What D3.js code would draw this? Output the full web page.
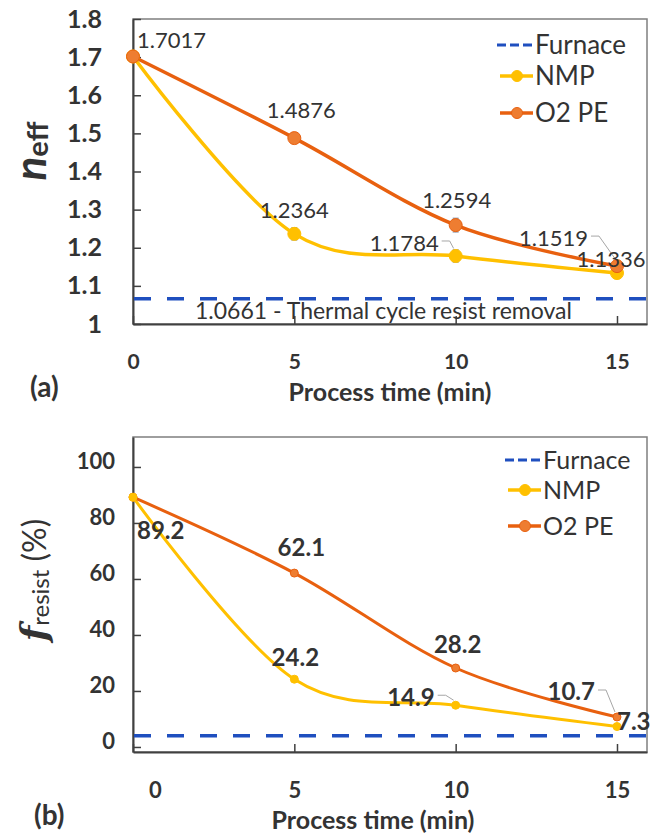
<!DOCTYPE html>
<html>
<head>
<meta charset="utf-8">
<script src="https://cdn.jsdelivr.net/npm/d3@7"></script>
<style>
  body { margin: 0; background: #fff; }
  svg text { font-family: Lato, 'Open Sans', sans-serif; fill: #333; }
</style>
</head>
<body>
<svg id="chart" width="656" height="837"></svg>
<script>
// process time (min)
const times = [0, 5, 10, 15]
const xTicks = [0, 5, 10, 15]

// (a) effective index
const neffNMP = [1.7017, 1.2364, 1.1784, 1.1336]
const neffO2PE = [1.7017, 1.4876, 1.2594, 1.1519]
const neffErrNMP = [0.008, 0.016, 0.016, 0.012]
const neffErrO2PE = [0.008, 0.014, 0.018, 0.010]
const neffFurnace = 1.0661
const neffTicks = [1, 1.1, 1.2, 1.3, 1.4, 1.5, 1.6, 1.7, 1.8]
const neffTickLabels = ['1', '1.1', '1.2', '1.3', '1.4', '1.5', '1.6', '1.7', '1.8']

// (b) resist fraction (%)
const fNMP = [89.2, 24.2, 14.9, 7.3]
const fO2PE = [89.2, 62.1, 28.2, 10.7]
const fFurnace = 4
const fTicks = [0, 20, 40, 60, 80, 100]

const seriesNames = ['Furnace', 'NMP', 'O2 PE']
const colors = { furnace: '#1f4fbf', nmp: '#ffc000', nmpMark: '#ffc000', o2: '#e8600f', o2Mark: '#ee7d31', err: '#8190a8' }

const svg = d3.select('#chart')

function drawPanel(p) {
  const x = d3.scaleLinear().domain([0, 15.93]).range([133, 647])
  const y = d3.scaleLinear().domain(p.yDomain).range([p.bottom, p.top])
  const g = svg.append('g')

  // plot area frame
  g.append('rect').attr('x', 133).attr('y', p.top).attr('width', 514).attr('height', p.bottom - p.top)
    .attr('fill', 'none').attr('stroke', '#7f7f7f').attr('stroke-width', 1.5)

  // y axis
  const ya = g.append('g').attr('transform', 'translate(133,0)')
    .call(d3.axisLeft(y).tickValues(p.yTicks).tickSizeInner(-8).tickSizeOuter(0).tickPadding(p.yPad)
      .tickFormat((d, i) => p.yLabels ? p.yLabels[i] : d))
  ya.select('.domain').attr('stroke', '#404040').attr('stroke-width', 2)
  ya.selectAll('.tick line').attr('stroke', '#404040').attr('stroke-width', 1.5)
  ya.selectAll('.tick text').attr('font-size', p.yFont).attr('font-weight', 'bold').attr('fill', '#262626')
    .attr('font-family', 'Lato').attr('transform', `translate(0,${p.yLabelShift})`)

  // x axis
  const xa = g.append('g').attr('transform', `translate(0,${p.bottom})`)
    .call(d3.axisBottom(x).tickValues(xTicks).tickSizeInner(-8).tickSizeOuter(0).tickPadding(30))
  xa.select('.domain').attr('stroke', '#404040').attr('stroke-width', 2)
  xa.selectAll('.tick line').attr('stroke', '#404040').attr('stroke-width', 1.5)
  xa.selectAll('.tick text').attr('font-size', p.xFont).attr('font-weight', 'bold').attr('fill', '#333')
    .attr('font-family', 'Lato').attr('dx', d => d === 0 ? p.zeroShift : 0)

  g.append('text').attr('x', p.titleX).attr('y', p.bottom + 77).attr('text-anchor', 'middle')
    .attr('font-size', 25).attr('font-weight', 'bold').attr('fill', '#404040').text('Process time (min)')

  g.append('text').attr('x', p.panelX).attr('y', p.bottom + 73).attr('font-size', 28).attr('font-weight', 'bold')
    .attr('fill', '#111').text(p.panel)

  // furnace reference
  g.append('line').attr('x1', 134).attr('x2', 646).attr('y1', y(p.furnace)).attr('y2', y(p.furnace))
    .attr('stroke', colors.furnace).attr('stroke-width', 3.5).attr('stroke-dasharray', '17,16')

  const line = d3.line().x((d, i) => x(times[i])).y(d => y(d)).curve(d3.curveCatmullRom.alpha(0))

  const series = [
    { vals: p.nmp, err: p.nmpErr, stroke: colors.nmp, mark: colors.nmpMark },
    { vals: p.o2, err: p.o2Err, stroke: colors.o2, mark: colors.o2Mark }
  ]
  series.forEach(s => {
    g.append('path').datum(s.vals).attr('d', line).attr('fill', 'none')
      .attr('stroke', s.stroke).attr('stroke-width', p.lineW)
    if (s.err) {
      const eb = g.selectAll(null).data(s.vals).enter().append('g')
      eb.append('line').attr('x1', (d, i) => x(times[i])).attr('x2', (d, i) => x(times[i]))
        .attr('y1', (d, i) => y(d - s.err[i])).attr('y2', (d, i) => y(d + s.err[i]))
        .attr('stroke', colors.err).attr('stroke-width', 1.2)
      ;[-1, 1].forEach(sg => {
        eb.append('line').attr('x1', (d, i) => x(times[i]) - 3).attr('x2', (d, i) => x(times[i]) + 3)
          .attr('y1', (d, i) => y(d + sg * s.err[i])).attr('y2', (d, i) => y(d + sg * s.err[i]))
          .attr('stroke', colors.err).attr('stroke-width', 1.2)
      })
    }
  })
  p.markOrder.forEach(k => {
    const s = series[k]
    g.selectAll(null).data(s.vals).enter().append('circle')
      .attr('cx', (d, i) => x(times[i])).attr('cy', d => y(d)).attr('r', p.markR)
      .attr('fill', s.mark).attr('stroke', s.stroke).attr('stroke-width', 1)
  })

  // data labels
  p.labels.forEach(l => {
    const px = x(times[l.i]), py = y(series[l.s].vals[l.i])
    g.append('text').attr('x', px + l.dx).attr('y', py + l.dy).attr('dy', '0.35em')
      .attr('text-anchor', l.anchor).attr('font-size', p.labelFont).attr('font-weight', p.labelWeight)
      .attr('fill', '#262626').text(p.fmt(series[l.s].vals[l.i]))
    if (l.leader) {
      g.append('polyline').attr('points', [[px + l.dx + 3, py + l.dy - 2], [px + l.dx + 11, py + l.dy - 2], [px - 2, py - p.markR - 1]].join(' '))
        .attr('fill', 'none').attr('stroke', '#a6a6a6').attr('stroke-width', 1)
    }
  })

  if (p.furnaceText) {
    g.append('text').attr('x', 195).attr('y', y(p.furnace) + 20).attr('font-size', 23)
      .attr('fill', '#262626').text(p.furnaceText)
  }

  // legend
  const lg = g.append('g').attr('transform', `translate(${p.legX},${p.legY})`)
  seriesNames.forEach((name, i) => {
    const ly = p.legDy[i]
    if (i === 0) {
      lg.append('line').attr('x1', 0).attr('x2', 36).attr('y1', ly).attr('y2', ly)
        .attr('stroke', colors.furnace).attr('stroke-width', 3).attr('stroke-dasharray', '9,4')
    } else {
      const s = series[i - 1]
      lg.append('line').attr('x1', 3).attr('x2', 36).attr('y1', ly).attr('y2', ly)
        .attr('stroke', s.stroke).attr('stroke-width', 3.5)
      lg.append('circle').attr('cx', 20).attr('cy', ly).attr('r', 5.5).attr('fill', s.mark).attr('stroke', s.stroke)
    }
    lg.append('text').attr('x', 38).attr('y', ly).attr('dy', '0.35em').attr('font-size', p.legFont)
      .attr('fill', '#333').text(name)
  })

  // y title
  const yt = g.append('text').attr('transform', `translate(46,${p.yTitleY}) rotate(-90)`)
    .attr('text-anchor', 'middle').attr('font-weight', 'bold').attr('fill', '#222')
  p.yTitle(yt)
}

drawPanel({
  top: 19, bottom: 324, yDomain: [1, 1.8], yTicks: neffTicks, yLabels: neffTickLabels, yPad: 31, yFont: 25, yLabelShift: 0,
  xFont: 21, zeroShift: 0, titleX: 390, panel: '(a)', panelX: 30,
  nmp: neffNMP, o2: neffO2PE, nmpErr: neffErrNMP, o2Err: neffErrO2PE, furnace: neffFurnace,
  furnaceText: '1.0661 - Thermal cycle resist removal',
  lineW: 3.5, markR: 6.5, markOrder: [0, 1], labelFont: 22, labelWeight: 'normal', fmt: d3.format('.4f'),
  labels: [
    { s: 1, i: 0, dx: 4, dy: -16, anchor: 'start' },
    { s: 1, i: 1, dx: 7, dy: -28, anchor: 'middle' },
    { s: 0, i: 1, dx: 0, dy: -24, anchor: 'middle' },
    { s: 1, i: 2, dx: 1, dy: -25, anchor: 'middle' },
    { s: 0, i: 2, dx: -17, dy: -13, anchor: 'end', leader: true },
    { s: 1, i: 3, dx: -29, dy: -28, anchor: 'end', leader: true },
    { s: 0, i: 3, dx: -6, dy: -14, anchor: 'middle' }
  ],
  legX: 497, legY: 0, legDy: [45, 76, 113], legFont: 26,
  yTitleY: 151,
  yTitle: t => {
    t.append('tspan').attr('font-size', 44).attr('font-style', 'italic').text('n')
    t.append('tspan').attr('font-size', 29).attr('dy', 2).text('eff')
  }
})

drawPanel({
  top: 437, bottom: 752, yDomain: [-1.8, 110.7], yTicks: fTicks, yPad: 18, yFont: 22, yLabelShift: -6,
  xFont: 22, zeroShift: 22, titleX: 373, panel: '(b)', panelX: 34,
  nmp: fNMP, o2: fO2PE, furnace: fFurnace,
  lineW: 3, markR: 4, markOrder: [1, 0], labelFont: 24, labelWeight: 'bold', fmt: d3.format('.1f'),
  labels: [
    { s: 0, i: 0, dx: 4, dy: 33, anchor: 'start' },
    { s: 1, i: 1, dx: 7, dy: -25, anchor: 'middle' },
    { s: 0, i: 1, dx: 1, dy: -22, anchor: 'middle' },
    { s: 1, i: 2, dx: 2, dy: -23, anchor: 'middle' },
    { s: 0, i: 2, dx: -21, dy: -8, anchor: 'end', leader: true },
    { s: 1, i: 3, dx: -22, dy: -25, anchor: 'end', leader: true },
    { s: 0, i: 3, dx: 0, dy: -5, anchor: 'start' }
  ],
  legX: 505, legY: 0, legDy: [460, 490, 526], legFont: 25,
  yTitleY: 580,
  yTitle: t => {
    t.append('tspan').attr('font-size', 36).attr('font-style', 'italic').attr('font-family', 'DejaVu Serif').text('f')
    t.append('tspan').attr('font-size', 24).attr('font-weight', 'normal').attr('dy', 3).text('resist')
    t.append('tspan').attr('font-size', 32).attr('font-weight', 'normal').attr('dy', -3).text(' (%)')
  }
})
</script>
</body>
</html>
